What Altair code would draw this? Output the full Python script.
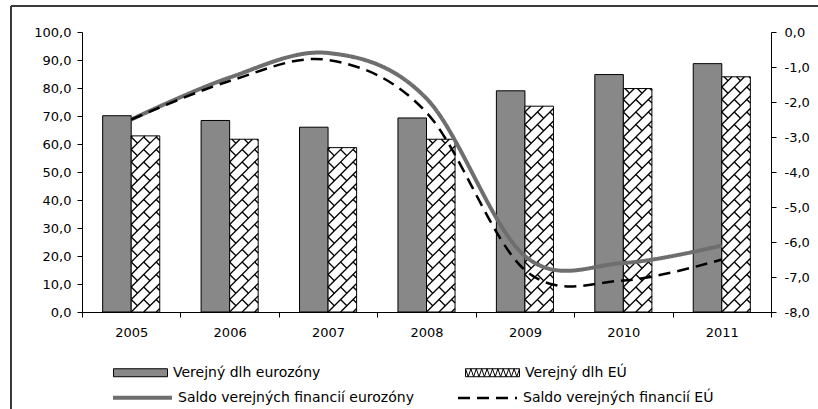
import altair as alt
import pandas as pd

# --- data -------------------------------------------------------------
years = ["2005", "2006", "2007", "2008", "2009", "2010", "2011"]
debt_euro = [70.1, 68.4, 66.0, 69.3, 79.0, 84.8, 88.7]   # % HDP, left axis
debt_eu = [62.9, 61.7, 58.7, 61.7, 73.5, 79.8, 84.0]
bal_euro = [-2.5, -1.3, -0.6, -1.9, -6.4, -6.6, -6.1]    # % HDP, right axis
bal_eu = [-2.5, -1.4, -0.8, -2.3, -6.8, -7.1, -6.5]

left_ticks = list(range(0, 101, 10))
right_ticks = list(range(-8, 1))

S_DEBT_EURO = "Verejný dlh eurozóny"
S_DEBT_EU = "Verejný dlh EÚ"
S_BAL_EURO = "Saldo verejných financií eurozóny"
S_BAL_EU = "Saldo verejných financií EÚ"

# --- layout -----------------------------------------------------------
PLOT_W, PLOT_H = 689, 280
N = len(years)
PX_X = PLOT_W / N          # pixels per category
PX_Y = PLOT_H / 100.0      # pixels per percentage point (left axis)
FONT = "DejaVu Sans"

# bar slots inside each category (fractions of the category width)
EURO_SLOT = (0.21, 0.50)
EU_SLOT = (0.50, 0.79)

bar_rows = []
for i, (y, a, b) in enumerate(zip(years, debt_euro, debt_eu)):
    bar_rows.append({"rok": y, "serie": S_DEBT_EURO, "x0": i + EURO_SLOT[0], "x1": i + EURO_SLOT[1], "hodnota": a, "zaklad": 0})
    bar_rows.append({"rok": y, "serie": S_DEBT_EU, "x0": i + EU_SLOT[0], "x1": i + EU_SLOT[1], "hodnota": b, "zaklad": 0})
bars_df = pd.DataFrame(bar_rows)

line_rows = []
for y, a, b in zip(years, bal_euro, bal_eu):
    line_rows.append({"rok": y, "serie": S_BAL_EURO, "saldo": a})
    line_rows.append({"rok": y, "serie": S_BAL_EU, "saldo": b})
lines_df = pd.DataFrame(line_rows)


# --- brick hatch for the EU debt bars --------------------------------
def clip(x0, y0, x1, y1, w, h):
    dx, dy = x1 - x0, y1 - y0
    t0, t1 = 0.0, 1.0
    for p, q in ((-dx, x0), (dx, w - x0), (-dy, y0), (dy, h - y0)):
        if p == 0:
            if q < 0:
                return None
        else:
            r = q / p
            if p < 0:
                t0 = max(t0, r)
            else:
                t1 = min(t1, r)
    if t0 >= t1:
        return None
    return (x0 + t0 * dx, y0 + t0 * dy, x0 + t1 * dx, y0 + t1 * dy)


def brick_hatch(left, value, d=12.5, brick=25.0):
    """Diagonal brick pattern (in pixels) clipped to one bar, returned in data units."""
    w = (EU_SLOT[1] - EU_SLOT[0]) * PX_X
    h = value * PX_Y
    segs = []
    k = int(-h // d) - 1
    while k * d <= w + d:
        c = k * d
        s = clip(c - 2, -2, c + h + 2, h + 2, w, h)
        if s:
            segs.append(s)
        cn = c + d
        t = -brick + (k % 2) * brick / 2
        while t <= w + h + brick:
            s = clip((c + t) / 2, (t - c) / 2, (cn + t) / 2, (t - cn) / 2, w, h)
            if s:
                segs.append(s)
            t += brick
        k += 1
    return [
        {"x": left + a / PX_X, "x2": left + c2 / PX_X, "y": b / PX_Y, "y2": d2 / PX_Y}
        for a, b, c2, d2 in segs
    ]


hatch_rows = []
for i, v in enumerate(debt_eu):
    hatch_rows += brick_hatch(i + EU_SLOT[0], v)
hatch_df = pd.DataFrame(hatch_rows)

lin_x = alt.Scale(domain=[0, N], nice=False, zero=False)
left_y = alt.Scale(domain=[0, 100], nice=False, zero=True)

comma = "replace(replace(format(datum.value, '.1f'), '.', ','), '\u2212', '-')"

# legend swatches: plain box and box with a zigzag
RECT = "M-1,-0.148L1,-0.148L1,0.148L-1,0.148Z"
ZIG = RECT + "M-1,-0.148" + "".join(
    f"L{-1 + 0.1 * j:.1f},{0.148 if j % 2 else -0.148}" for j in range(1, 21)
)

debt_domain = [S_DEBT_EURO, S_DEBT_EU]
debt_fill = alt.Scale(domain=debt_domain, range=["#888888", "#ffffff"])


def debt_legend():
    return alt.Legend(
        title=None, orient="none", legendX=31, legendY=313,
        direction="horizontal", columns=2, columnPadding=142,
        symbolSize=2916, labelOffset=5, symbolOpacity=1,
        symbolStrokeWidth=1,
    )


bars = alt.Chart(bars_df).mark_bar(stroke="black", strokeWidth=1).encode(
    x=alt.X("x0:Q", scale=lin_x, axis=None),
    x2="x1:Q",
    y=alt.Y(
        "hodnota:Q",
        scale=left_y,
        axis=alt.Axis(
            orient="left", values=left_ticks, labelExpr=comma, title=None,
            tickSize=5, labelPadding=6, grid=False,
        ),
    ),
    y2="zaklad:Q",
    fill=alt.Fill("serie:N", scale=debt_fill, legend=debt_legend()),
)

# invisible points that carry the swatch shapes for the debt legend
swatches = alt.Chart(bars_df).mark_point(filled=True, opacity=0, strokeWidth=1).encode(
    x=alt.X("x0:Q", scale=lin_x, axis=None),
    y=alt.Y("hodnota:Q", scale=left_y, axis=None),
    fill=alt.Fill("serie:N", scale=debt_fill, legend=debt_legend()),
    shape=alt.Shape("serie:N", scale=alt.Scale(domain=debt_domain, range=[RECT, ZIG]), legend=debt_legend()),
    stroke=alt.Stroke("serie:N", scale=alt.Scale(domain=debt_domain, range=["#000000", "#000000"]), legend=debt_legend()),
)

hatch = alt.Chart(hatch_df).mark_rule(color="black", strokeWidth=1.3).encode(
    x=alt.X("x:Q", scale=lin_x, axis=None),
    x2="x2:Q",
    y=alt.Y("y:Q", scale=left_y, axis=None),
    y2="y2:Q",
)

lines = alt.Chart(lines_df).mark_line(interpolate="cardinal").encode(
    x=alt.X(
        "rok:N", sort=years,
        scale=alt.Scale(type="band", paddingInner=0, paddingOuter=0),
        axis=alt.Axis(
            title=None, tickBand="extent", labelAngle=0, tickSize=5,
            labelPadding=9, grid=False,
        ),
    ),
    y=alt.Y(
        "saldo:Q",
        scale=alt.Scale(domain=[-8, 0], nice=False, zero=False),
        axis=alt.Axis(
            orient="right", values=right_ticks, labelExpr=comma, title=None,
            tickSize=5, labelPadding=8, grid=False,
        ),
    ),
    color=alt.Color(
        "serie:N",
        scale=alt.Scale(domain=[S_BAL_EURO, S_BAL_EU], range=["#6e6e6e", "#000000"]),
        legend=alt.Legend(
            title=None, orient="none", legendX=29, legendY=334,
            direction="horizontal", columns=2, columnPadding=39,
            symbolType="stroke", symbolSize=3481, labelOffset=4,
        ),
    ),
    strokeDash=alt.StrokeDash(
        "serie:N",
        scale=alt.Scale(domain=[S_BAL_EURO, S_BAL_EU], range=[[1, 0], [12, 7]]),
        legend=None,
    ),
    strokeWidth=alt.StrokeWidth(
        "serie:N",
        scale=alt.Scale(domain=[S_BAL_EURO, S_BAL_EU], range=[4, 2.5]),
        legend=None,
    ),
)

# outer frame around the figure
frame_top = alt.Chart(alt.Data(values=[{}])).mark_rule(color="#3a3a3a", strokeWidth=2).encode(
    x=alt.value(-71), x2=alt.value(PLOT_W + 60), y=alt.value(-26)
)
frame_left = alt.Chart(alt.Data(values=[{}])).mark_rule(color="#3a3a3a", strokeWidth=2).encode(
    x=alt.value(-71), y=alt.value(-26), y2=alt.value(PLOT_H + 120)
)

chart = (
    alt.layer(bars, swatches, hatch, lines, frame_top, frame_left)
    .resolve_scale(x="independent", y="independent")
    .properties(
        width=PLOT_W,
        height=PLOT_H,
        autosize=alt.AutoSizeParams(type="none"),
        padding={"left": 82, "top": 32, "right": 47, "bottom": 97},
        background="white",
    )
    .configure_view(stroke=None)
    .configure_axis(
        labelFont=FONT, labelFontSize=13, labelColor="black",
        domainColor="black", tickColor="black", domainWidth=1, tickWidth=1,
    )
    .configure_legend(labelFont=FONT, labelFontSize=14, labelColor="black", labelLimit=400)
)

chart.save("out.html", embed_options={"renderer": "svg", "actions": False})
